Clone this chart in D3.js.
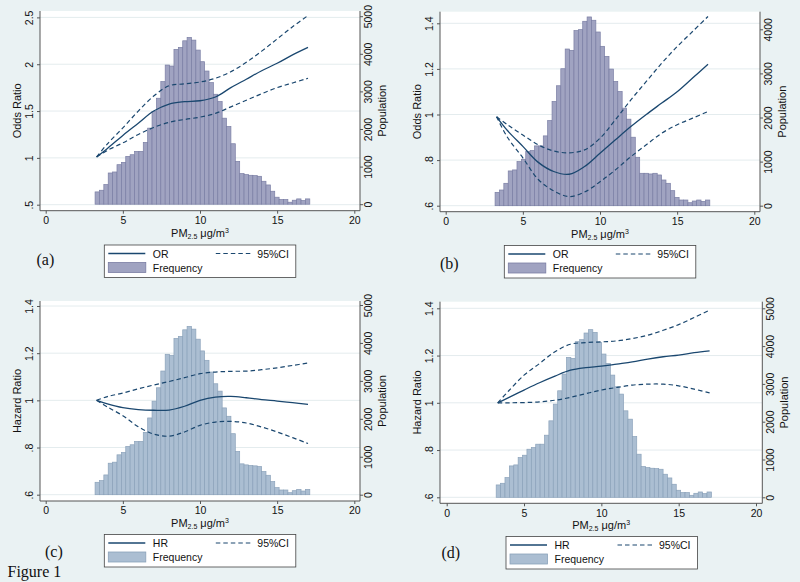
<!DOCTYPE html>
<html>
<head>
<meta charset="utf-8">
<script src="https://cdn.jsdelivr.net/npm/d3@7"></script>
<style>
  body { margin: 0; background: #eaf2f3; }
  svg { display: block; }
  text { font-family: "Liberation Sans", Arial, sans-serif; fill: #111; }
  .serif { font-family: "Liberation Serif", "Times New Roman", serif; }
</style>
</head>
<body>
<div id="figure"></div>
<script>
// ---- data ----

// histogram of PM2.5 exposure, bins start at 3.2 with width ~0.284
var binStart = 3.2;
var binWidth = 0.284;
// population per bin, panels a, c, d
var freqACD = [327, 371, 521, 830, 857, 1051, 1113, 1272, 1316, 1405, 1405, 1643, 2023, 2465, 2818,
  3260, 3701, 3675, 4117, 4170, 4346, 4435, 4364, 4099, 3790, 3542, 3233, 2924, 2730, 2288,
  2067, 1608, 1140, 813, 786, 769, 760, 742, 610, 512, 345, 186, 124, 124, 53, 106, 141, 97, 141];
// population per bin, panel b
var freqB = [303, 356, 508, 788, 811, 1000, 1053, 1227, 1250, 1356, 1356, 1583, 1932, 2364, 2720,
  3106, 3553, 3523, 3970, 3992, 4182, 4280, 4205, 3939, 3614, 3386, 3098, 2818, 2591, 2212,
  1962, 1553, 1098, 735, 735, 720, 735, 697, 583, 508, 341, 189, 129, 129, 68, 106, 129, 98, 129];

// PM2.5 values where the fitted curves were read
var pmGrid = [3.3, 4, 5, 6, 7, 8, 9, 10, 11, 12, 13, 14, 15, 16, 17];

// (a) odds ratio
var orA   = [1.01, 1.10, 1.24, 1.37, 1.50, 1.575, 1.60, 1.61, 1.65, 1.75, 1.84, 1.93, 2.01, 2.10, 2.18];
var orAlo = [1.01, 1.08, 1.16, 1.25, 1.325, 1.38, 1.41, 1.435, 1.475, 1.545, 1.615, 1.685, 1.75, 1.80, 1.85];
var orAhi = [1.01, 1.15, 1.32, 1.50, 1.66, 1.77, 1.79, 1.81, 1.85, 1.92, 2.02, 2.14, 2.27, 2.40, 2.52];
// (b) odds ratio
var orB   = [0.99, 0.93, 0.86, 0.79, 0.75, 0.738, 0.772, 0.83, 0.889, 0.947, 1.0, 1.05, 1.10, 1.16, 1.22];
var orBlo = [0.99, 0.90, 0.81, 0.715, 0.665, 0.64, 0.66, 0.705, 0.757, 0.815, 0.867, 0.918, 0.955, 0.984, 1.013];
var orBhi = [0.99, 0.955, 0.91, 0.867, 0.84, 0.832, 0.845, 0.896, 0.977, 1.064, 1.145, 1.225, 1.298, 1.364, 1.43];
// (c) hazard ratio
var hrC   = [1.0, 0.985, 0.969, 0.961, 0.958, 0.959, 0.975, 1.0, 1.014, 1.017, 1.011, 1.003, 0.997, 0.99, 0.983];
var hrClo = [1.0, 0.972, 0.935, 0.888, 0.857, 0.848, 0.866, 0.894, 0.908, 0.911, 0.904, 0.887, 0.866, 0.842, 0.817];
var hrChi = [1.0, 1.016, 1.031, 1.049, 1.065, 1.08, 1.096, 1.113, 1.12, 1.123, 1.124, 1.13, 1.138, 1.148, 1.158];
// (d) hazard ratio
var hrD   = [1.0, 1.022, 1.054, 1.085, 1.113, 1.138, 1.149, 1.155, 1.164, 1.173, 1.185, 1.195, 1.202, 1.212, 1.22];
var hrDlo = [1.0, 1.0, 1.001, 1.004, 1.011, 1.023, 1.039, 1.054, 1.065, 1.075, 1.079, 1.079, 1.072, 1.058, 1.042];
var hrDhi = [1.0, 1.05, 1.117, 1.166, 1.216, 1.248, 1.255, 1.258, 1.262, 1.272, 1.286, 1.307, 1.331, 1.361, 1.392];

// tick labels
var xTicks = [0, 5, 10, 15, 20];
var orTicksA = [0.5, 1, 1.5, 2, 2.5];
var ratioTicks = [0.6, 0.8, 1, 1.2, 1.4];
var popTicks5000 = [0, 1000, 2000, 3000, 4000, 5000];
var popTicks4000 = [0, 1000, 2000, 3000, 4000];

// ---- panel layout ----
var panels = [
  { ox: 0, oy: 0, letter: "(a)", est: orA, lo: orAlo, hi: orAhi, freq: freqACD, lineName: "OR",
    yTitle: "Odds Ratio", yTicks: orTicksA, yRange: [204.7, 17.4], popTicks: popTicks5000, popRange: [204.2, 16.2],
    frame: { l: 40, r: 360, t: 11, b: 210.7 }, xr: [45.7, 354.3], legend: [104.3, 245], letterPos: [36.5, 265],
    fill: "#a0a3c1", edge: "#7a7ea4" },
  { ox: 400, oy: 0, letter: "(b)", est: orB, lo: orBlo, hi: orBhi, freq: freqB, lineName: "OR",
    yTitle: "Odds Ratio", yTicks: ratioTicks, yRange: [205.7, 23.3], popTicks: popTicks4000, popRange: [205.7, 29.3],
    frame: { l: 40, r: 360, t: 11.7, b: 211.7 }, xr: [45.7, 354.3], legend: [104.3, 245.5], letterPos: [40, 269],
    fill: "#a0a3c1", edge: "#7a7ea4" },
  { ox: 0, oy: 290, letter: "(c)", est: hrC, lo: hrClo, hi: hrChi, freq: freqACD, lineName: "HR",
    yTitle: "Hazard Ratio", yTicks: ratioTicks, yRange: [204.7, 16], popTicks: popTicks5000, popRange: [204.7, 15],
    frame: { l: 40, r: 360, t: 11, b: 211 }, xr: [45.7, 354.3], legend: [104.3, 244.5], letterPos: [45, 266.5],
    fill: "#abbed2", edge: "#8ba2ba" },
  { ox: 400, oy: 290, letter: "(d)", est: hrD, lo: hrDlo, hi: hrDhi, freq: freqACD, lineName: "HR",
    yTitle: "Hazard Ratio", yTicks: ratioTicks, yRange: [207.3, 18.3], popTicks: popTicks5000, popRange: [207.3, 18.3],
    frame: { l: 40, r: 362.3, t: 11.7, b: 213.3 }, xr: [46.7, 356], legend: [106, 246.5], letterPos: [41.5, 268],
    fill: "#abbed2", edge: "#8ba2ba" }
];

var navy = "#1a476f";
var axisColor = "#555";
var gridColor = "#e4ecee";

// drop the leading zero, Stata style
function stataFmt(d) { return String(d).replace(/^0\./, "."); }

var svg = d3.select("#figure")
  .append("svg")
    .attr("width", 800)
    .attr("height", 582);

svg.append("rect")
  .attr("width", 800).attr("height", 582)
  .attr("fill", "#eaf2f3");

panels.forEach(function(p) {
  var g = svg.append("g")
    .attr("transform", "translate(" + p.ox + "," + p.oy + ")");
  var f = p.frame;

  // scales
  var x = d3.scaleLinear().domain([0, 20]).range(p.xr);
  var y = d3.scaleLinear().domain([p.yTicks[0], p.yTicks[p.yTicks.length - 1]]).range(p.yRange);
  var yPop = d3.scaleLinear().domain([0, p.popTicks[p.popTicks.length - 1]]).range(p.popRange);

  // plot region
  g.append("rect")
    .attr("x", f.l).attr("y", f.t)
    .attr("width", f.r - f.l).attr("height", f.b - f.t)
    .attr("fill", "#fff");

  // horizontal grid lines
  g.selectAll(".grid")
    .data(p.yTicks)
    .enter().append("line")
      .attr("x1", f.l).attr("x2", f.r)
      .attr("y1", function(d) { return y(d); })
      .attr("y2", function(d) { return y(d); })
      .attr("stroke", gridColor)
      .attr("stroke-width", 1);

  // histogram
  g.selectAll(".bar")
    .data(p.freq)
    .enter().append("rect")
      .attr("x", function(d, i) { return x(binStart + i * binWidth); })
      .attr("width", function(d, i) { return x(binStart + (i + 1) * binWidth) - x(binStart + i * binWidth); })
      .attr("y", function(d) { return yPop(d); })
      .attr("height", function(d) { return yPop(0) - yPop(d); })
      .attr("fill", p.fill)
      .attr("stroke", p.edge)
      .attr("stroke-width", 0.7);

  // fitted curves
  var line = d3.line()
    .x(function(d, i) { return x(pmGrid[i]); })
    .y(function(d) { return y(d); })
    .curve(d3.curveCatmullRom.alpha(0.5));

  [p.hi, p.lo].forEach(function(ci) {
    g.append("path")
      .attr("d", line(ci))
      .attr("fill", "none")
      .attr("stroke", navy)
      .attr("stroke-width", 1.2)
      .attr("stroke-dasharray", "4.5,3");
  });
  g.append("path")
    .attr("d", line(p.est))
    .attr("fill", "none")
    .attr("stroke", navy)
    .attr("stroke-width", 1.3);

  // axes
  var xAxis = g.append("g")
    .attr("transform", "translate(0," + f.b + ")")
    .call(d3.axisBottom(x).tickValues(xTicks).tickSize(3).tickPadding(3).tickSizeOuter(0));
  var yAxis = g.append("g")
    .attr("transform", "translate(" + f.l + ",0)")
    .call(d3.axisLeft(y).tickValues(p.yTicks).tickFormat(stataFmt).tickSize(3).tickSizeOuter(0));
  var popAxis = g.append("g")
    .attr("transform", "translate(" + f.r + ",0)")
    .call(d3.axisRight(yPop).tickValues(p.popTicks).tickFormat(d3.format("d")).tickSize(3).tickSizeOuter(0));

  // stretch axis lines to the full frame
  xAxis.select(".domain").attr("d", "M" + f.l + ",0H" + f.r);
  yAxis.select(".domain").attr("d", "M0," + f.t + "V" + f.b);
  popAxis.select(".domain").attr("d", "M0," + f.t + "V" + f.b);

  [xAxis, yAxis, popAxis].forEach(function(a) {
    a.selectAll("path, line").attr("stroke", axisColor);
    a.selectAll("text")
      .style("font-family", "'Liberation Sans', Arial, sans-serif")
      .style("font-size", "10.5px")
      .attr("fill", "#111");
  });

  // rotated tick labels on both y axes
  yAxis.selectAll(".tick text")
    .attr("x", null).attr("dy", null)
    .attr("text-anchor", "middle")
    .attr("dominant-baseline", "central")
    .attr("transform", "translate(-11,0) rotate(-90)");
  popAxis.selectAll(".tick text")
    .attr("x", null).attr("dy", null)
    .attr("text-anchor", "middle")
    .attr("dominant-baseline", "central")
    .attr("transform", "translate(7.5,0) rotate(-90)");

  // axis titles
  var midY = (f.t + f.b) / 2;
  g.append("text")
    .attr("transform", "translate(" + (f.l - 23.5) + "," + midY + ") rotate(-90)")
    .attr("text-anchor", "middle")
    .attr("dominant-baseline", "central")
    .style("font-size", "11px")
    .text(p.yTitle);
  g.append("text")
    .attr("transform", "translate(" + (f.r + 22) + "," + midY + ") rotate(-90)")
    .attr("text-anchor", "middle")
    .attr("dominant-baseline", "central")
    .style("font-size", "11px")
    .text("Population");

  var xt = g.append("text")
    .attr("x", (f.l + f.r) / 2)
    .attr("y", f.b + 26)
    .attr("text-anchor", "middle")
    .style("font-size", "11px");
  xt.append("tspan").text("PM");
  xt.append("tspan").attr("dy", 2).style("font-size", "7px").text("2.5");
  xt.append("tspan").attr("dy", -2).text(" \u03bcg/m");
  xt.append("tspan").attr("dy", -4).style("font-size", "7px").text("3");

  // legend
  var lx = p.legend[0], ly = p.legend[1];
  var leg = g.append("g").attr("transform", "translate(" + lx + "," + ly + ")");
  leg.append("rect")
    .attr("width", 191.5).attr("height", 32.5)
    .attr("fill", "#fff")
    .attr("stroke", "#444")
    .attr("stroke-width", 0.8);
  leg.append("line")
    .attr("x1", 4).attr("x2", 41).attr("y1", 8.5).attr("y2", 8.5)
    .attr("stroke", navy).attr("stroke-width", 1.3);
  leg.append("text").attr("x", 48.5).attr("y", 12.5).style("font-size", "10.5px").text(p.lineName);
  leg.append("line")
    .attr("x1", 111.5).attr("x2", 147.5).attr("y1", 8.5).attr("y2", 8.5)
    .attr("stroke", navy).attr("stroke-width", 1.2).attr("stroke-dasharray", "4.5,3");
  leg.append("text").attr("x", 153).attr("y", 12.5).style("font-size", "10.5px").text("95%CI");
  leg.append("rect")
    .attr("x", 4).attr("y", 17.5).attr("width", 37.5).attr("height", 10)
    .attr("fill", p.fill).attr("stroke", p.edge).attr("stroke-width", 0.8);
  leg.append("text").attr("x", 48.5).attr("y", 26.5).style("font-size", "10.5px").text("Frequency");

  // panel letter
  g.append("text")
    .attr("class", "serif")
    .attr("x", p.letterPos[0]).attr("y", p.letterPos[1])
    .style("font-size", "16px")
    .text(p.letter);
});

svg.append("text")
  .attr("class", "serif")
  .attr("x", 7.5).attr("y", 577)
  .style("font-size", "16px")
  .text("Figure 1");
</script>
</body>
</html>
